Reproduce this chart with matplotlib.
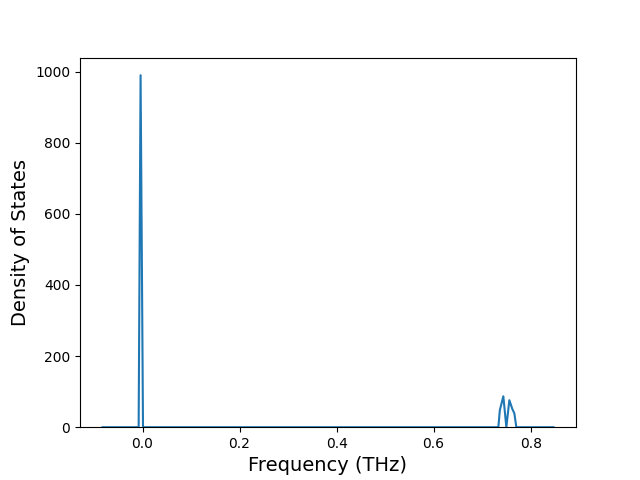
import matplotlib
matplotlib.use("Agg")
import matplotlib.pyplot as plt

freq = [-0.0824, -0.0080, -0.0040, 0.0010, 0.7334, 0.7365, 0.7437, 0.7499,
        0.7561, 0.7623, 0.7664, 0.7705, 0.8470]
dos = [0, 0, 990, 0, 0, 48, 87, 0, 76, 51, 39, 0, 0]

fig, ax = plt.subplots(figsize=(6.4, 4.8), dpi=100)
ax.plot(freq, dos, color="#1f77b4", linewidth=1.5)
ax.set_ylim(bottom=0)
ax.set_xlabel("Frequency (THz)", fontsize=14)
ax.set_ylabel("Density of States", fontsize=14)
fig.savefig("out.png", dpi=100)
